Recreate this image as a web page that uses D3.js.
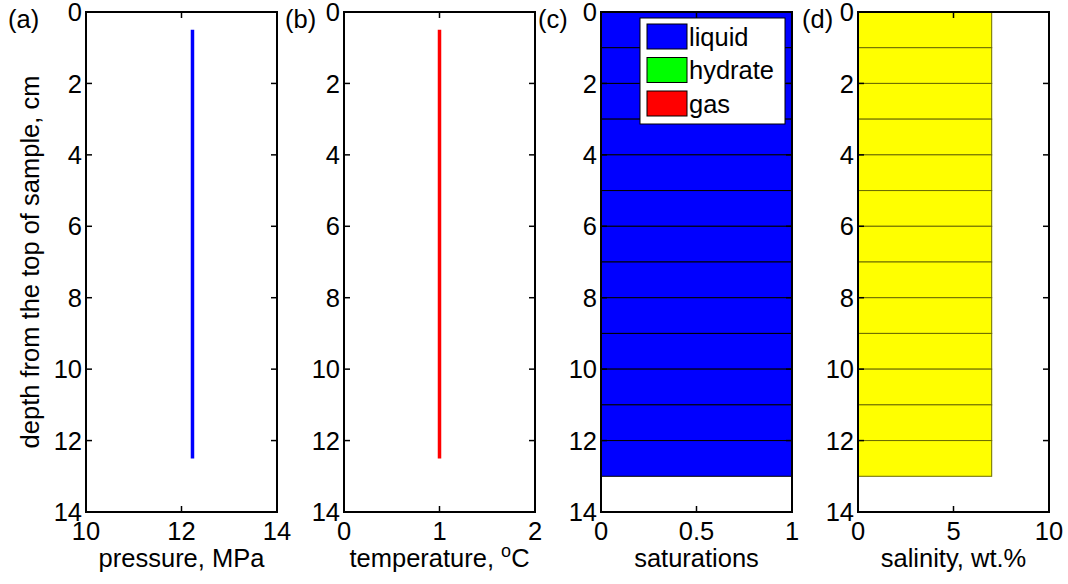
<!DOCTYPE html>
<html>
<head>
<meta charset="utf-8">
<script src="https://cdn.jsdelivr.net/npm/d3@7"></script>
<style>
  body { margin: 0; background: #fff; }
  svg text { font-family: "Liberation Sans", Arial, sans-serif; fill: #000; }
</style>
</head>
<body>
<div id="chart"></div>
<script>
// cell centres, cm
var depths = [0.5, 1.5, 2.5, 3.5, 4.5, 5.5, 6.5, 7.5, 8.5, 9.5, 10.5, 11.5, 12.5];
var pressure = [12.23, 12.23, 12.23, 12.23, 12.23, 12.23, 12.23, 12.23, 12.23, 12.23, 12.23, 12.23, 12.23];
var temperature = [1, 1, 1, 1, 1, 1, 1, 1, 1, 1, 1, 1, 1];
var liquid = [1, 1, 1, 1, 1, 1, 1, 1, 1, 1, 1, 1, 1];
var hydrate = [0, 0, 0, 0, 0, 0, 0, 0, 0, 0, 0, 0, 0];
var gas = [0, 0, 0, 0, 0, 0, 0, 0, 0, 0, 0, 0, 0];
var salinity = [7, 7, 7, 7, 7, 7, 7, 7, 7, 7, 7, 7, 7];
var depthTicks = [0, 2, 4, 6, 8, 10, 12, 14];
var phaseNames = ['liquid', 'hydrate', 'gas'];
var phaseColors = ['#0000ff', '#00ff00', '#ff0000'];

var width = 1068, height = 584;
var yTop = 12, yBot = 512, pw = 191;
var lefts = [86, 344, 601, 858];
var tagX = [8, 285, 538, 802];
var fs = '25.5px';

var svg = d3.select('#chart').append('svg')
  .attr('width', width)
  .attr('height', height);

var y = d3.scaleLinear().domain([0, 14]).range([yTop, yBot]);

var panels = [
  { tag: '(a)', domain: [10, 14], ticks: [10, 12, 14], label: 'pressure, MPa' },
  { tag: '(b)', domain: [0, 2], ticks: [0, 1, 2], label: 'temperature, ' },
  { tag: '(c)', domain: [0, 1], ticks: [0, 0.5, 1], label: 'saturations' },
  { tag: '(d)', domain: [0, 10], ticks: [0, 5, 10], label: 'salinity, wt.%' }
];

panels.forEach(function(p, i) {
  var x0 = lefts[i];
  var x = d3.scaleLinear().domain(p.domain).range([x0, x0 + pw]);
  var g = svg.append('g');

  if (i === 0) {
    g.append('path')
      .datum(depths)
      .attr('fill', 'none')
      .attr('stroke', '#0000ff')
      .attr('stroke-width', 3.5)
      .attr('d', d3.line().x(function(d, k) { return x(pressure[k]); }).y(function(d) { return y(d); }));
  }
  if (i === 1) {
    g.append('path')
      .datum(depths)
      .attr('fill', 'none')
      .attr('stroke', '#ff0000')
      .attr('stroke-width', 3.5)
      .attr('d', d3.line().x(function(d, k) { return x(temperature[k]); }).y(function(d) { return y(d); }));
  }
  if (i === 2) {
    var series = d3.stack().keys(phaseNames)(depths.map(function(d, k) {
      return { liquid: liquid[k], hydrate: hydrate[k], gas: gas[k] };
    }));
    series.forEach(function(s, si) {
      g.selectAll('rect.s' + si)
        .data(s.map(function(v, k) { return { v: v, d: depths[k] }; })
               .filter(function(o) { return o.v[1] > o.v[0]; }))
        .enter().append('rect')
        .attr('x', function(o) { return x(o.v[0]); })
        .attr('width', function(o) { return x(o.v[1]) - x(o.v[0]); })
        .attr('y', function(o) { return y(o.d - 0.5); })
        .attr('height', y(1) - y(0))
        .attr('fill', phaseColors[si])
        .attr('stroke', '#000')
        .attr('stroke-width', 1);
    });
  }
  if (i === 3) {
    g.selectAll('rect.sal')
      .data(salinity)
      .enter().append('rect')
      .attr('x', x(0))
      .attr('width', function(d) { return x(d) - x(0); })
      .attr('y', function(d, k) { return y(depths[k] - 0.5); })
      .attr('height', y(1) - y(0))
      .attr('fill', '#ffff00')
      .attr('stroke', '#6b6b00')
      .attr('stroke-width', 1);
  }

  // box
  g.append('rect')
    .attr('x', x0).attr('y', yTop)
    .attr('width', pw).attr('height', yBot - yTop)
    .attr('fill', 'none')
    .attr('stroke', '#000')
    .attr('stroke-width', 2);

  // ticks (inward on all four sides)
  var tl = 6;
  depthTicks.forEach(function(t) {
    g.append('line').attr('x1', x0).attr('x2', x0 + tl).attr('y1', y(t)).attr('y2', y(t)).attr('stroke', '#000').attr('stroke-width', 1.5);
    g.append('line').attr('x1', x0 + pw).attr('x2', x0 + pw - tl).attr('y1', y(t)).attr('y2', y(t)).attr('stroke', '#000').attr('stroke-width', 1.5);
    g.append('text')
      .attr('x', x0 - 4).attr('y', y(t))
      .attr('dy', '0.36em')
      .attr('text-anchor', 'end')
      .style('font-size', fs)
      .text(t);
  });
  p.ticks.forEach(function(t) {
    g.append('line').attr('x1', x(t)).attr('x2', x(t)).attr('y1', yBot).attr('y2', yBot - tl).attr('stroke', '#000').attr('stroke-width', 1.5);
    g.append('line').attr('x1', x(t)).attr('x2', x(t)).attr('y1', yTop).attr('y2', yTop + tl).attr('stroke', '#000').attr('stroke-width', 1.5);
    g.append('text')
      .attr('x', x(t)).attr('y', yBot + 28)
      .attr('text-anchor', 'middle')
      .style('font-size', fs)
      .text(t);
  });

  var xl = g.append('text')
    .attr('x', x0 + pw / 2).attr('y', yBot + 55)
    .attr('text-anchor', 'middle')
    .style('font-size', fs)
    .text(p.label);
  if (i === 1) {
    xl.append('tspan').attr('dy', -10).style('font-size', '18px').text('o');
    xl.append('tspan').attr('dy', 10).text('C');
  }

  g.append('text')
    .attr('x', tagX[i]).attr('y', 28)
    .style('font-size', fs)
    .text(p.tag);
});

// y label
svg.append('text')
  .attr('transform', 'translate(39,' + (yTop + yBot) / 2 + ') rotate(-90)')
  .attr('text-anchor', 'middle')
  .style('font-size', fs)
  .text('depth from the top of sample, cm');

// legend in panel (c)
var lg = svg.append('g').attr('transform', 'translate(640,18)');
lg.append('rect').attr('width', 145).attr('height', 106).attr('fill', '#fff').attr('stroke', '#000').attr('stroke-width', 1);
phaseNames.forEach(function(n, k) {
  lg.append('rect')
    .attr('x', 7).attr('y', 6 + k * 33.5)
    .attr('width', 40).attr('height', 25)
    .attr('fill', phaseColors[k])
    .attr('stroke', '#000').attr('stroke-width', 1);
  lg.append('text')
    .attr('x', 49).attr('y', 18.5 + k * 33.5)
    .attr('dy', '0.36em')
    .style('font-size', fs)
    .text(n);
});
</script>
</body>
</html>
